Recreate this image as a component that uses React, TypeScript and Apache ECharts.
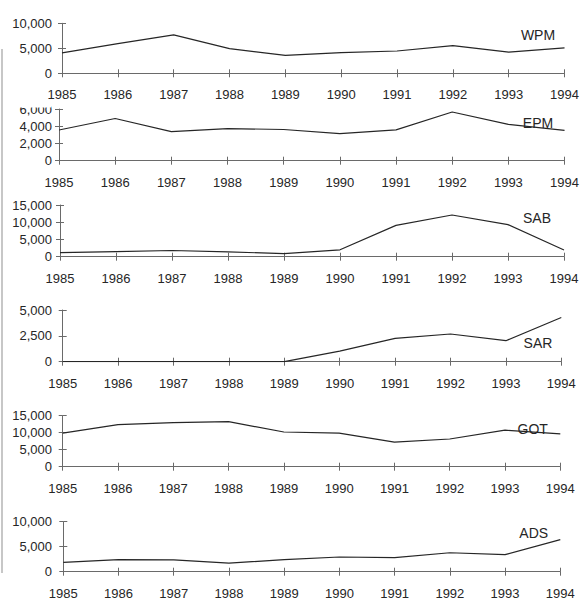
import React, { useEffect, useRef } from "react";
import * as echarts from "echarts";

const years = ["1985", "1986", "1987", "1988", "1989", "1990", "1991", "1992", "1993", "1994"];
const wpm = [4100, 5950, 7700, 4930, 3600, 4120, 4460, 5540, 4250, 5100];
const epm = [3560, 4900, 3380, 3730, 3620, 3150, 3580, 5650, 4220, 3530];
const sab = [1200, 1500, 1800, 1400, 900, 2000, 9100, 12100, 9300, 1950];
const sar = [0, 0, 0, 0, 0, 1030, 2250, 2680, 2030, 4270];
const got = [9850, 12400, 12940, 13240, 10200, 9900, 7250, 8140, 10750, 9650];
const ads = [1850, 2420, 2350, 1700, 2420, 2940, 2810, 3790, 3400, 6420];

const seriesNames = ["WPM", "EPM", "SAB", "SAR", "GOT", "ADS"];
const seriesData = [wpm, epm, sab, sar, got, ads];
const yMaxes = [10000, 6000, 15000, 5000, 15000, 10000];
const yIntervals = [5000, 2000, 5000, 2500, 5000, 5000];

// layout (pixels)
const layout = [
  { left: 62, top: 23.3, right: 566.3, bottom: 73.3, nameX: 538, nameY: 35 },
  { left: 59, top: 109, right: 566.3, bottom: 160.7, nameX: 538, nameY: 122.7 },
  { left: 60, top: 205, right: 564, bottom: 256.7, nameX: 537, nameY: 218.3 },
  { left: 62.7, top: 310, right: 561.3, bottom: 361.7, nameX: 538, nameY: 343.3 },
  { left: 62.7, top: 415.7, right: 560.3, bottom: 466.7, nameX: 532.7, nameY: 429.3 },
  { left: 63.3, top: 521.7, right: 560.3, bottom: 571.7, nameX: 533.7, nameY: 533.3 },
];

const FONT = "'Liberation Sans', Arial, sans-serif";
const TEXT = "#262626";
const AXIS = "#6a6a6a";
const LINE = "#262626";

export default function App() {
  const ref = useRef<HTMLDivElement>(null);

  useEffect(() => {
    if (!ref.current) return;
    const chart = echarts.init(ref.current, null, { renderer: "svg" });

    const grids: any[] = [];
    const xAxes: any[] = [];
    const yAxes: any[] = [];
    const series: any[] = [];
    const graphics: any[] = [];

    layout.forEach((l, i) => {
      grids.push({
        left: l.left,
        top: l.top,
        width: l.right - l.left,
        height: l.bottom - l.top,
        containLabel: false,
      });
      xAxes.push({
        gridIndex: i,
        type: "category",
        position: "bottom",
        data: years,
        boundaryGap: false,
        axisLine: { show: true, lineStyle: { color: AXIS, width: 1 } },
        axisTick: { show: true, length: 4, interval: 0, lineStyle: { color: AXIS } },
        axisLabel: {
          interval: 0,
          margin: 15,
          color: TEXT,
          fontSize: 13,
          fontFamily: FONT,
        },
        splitLine: { show: false },
      });
      xAxes.push({
        gridIndex: i,
        type: "category",
        position: "bottom",
        data: years,
        boundaryGap: false,
        axisLine: { show: false },
        axisTick: { show: true, inside: true, length: 4, interval: 0, lineStyle: { color: AXIS } },
        axisLabel: { show: false },
        splitLine: { show: false },
      });
      yAxes.push({
        gridIndex: i,
        type: "value",
        position: "left",
        min: 0,
        max: yMaxes[i],
        interval: yIntervals[i],
        axisLine: { show: true, lineStyle: { color: AXIS, width: 1 } },
        axisTick: { show: true, length: 4, lineStyle: { color: AXIS } },
        axisLabel: {
          margin: l.left - 52,
          color: TEXT,
          fontSize: 13,
          fontFamily: FONT,
          formatter: (v: number) => v.toLocaleString("en-US"),
        },
        splitLine: { show: false },
      });
      yAxes.push({
        gridIndex: i,
        type: "value",
        position: "left",
        min: 0,
        max: yMaxes[i],
        interval: yIntervals[i],
        axisLine: { show: false },
        axisTick: { show: true, inside: true, length: 4, lineStyle: { color: AXIS } },
        axisLabel: { show: false },
        splitLine: { show: false },
      });
      series.push({
        type: "line",
        name: seriesNames[i],
        xAxisIndex: 2 * i,
        yAxisIndex: 2 * i,
        data: seriesData[i],
        symbol: "none",
        lineStyle: { color: LINE, width: 1.2 },
        z: 3,
      });
      graphics.push({
        type: "text",
        x: l.nameX,
        y: l.nameY,
        z: 10,
        style: {
          text: seriesNames[i],
          fill: TEXT,
          fontSize: 14,
          fontFamily: FONT,
          align: "center",
          verticalAlign: "middle",
        },
      });
    });

    // clip the top of the "6,000" label as in the reference
    graphics.push({
      type: "rect",
      shape: { x: 8, y: 101, width: 43, height: 6.5 },
      style: { fill: "#ffffff" },
      z: 100,
    });
    // page edge line at the left
    graphics.push({
      type: "line",
      shape: { x1: 2, y1: 49, x2: 2, y2: 573 },
      style: { stroke: "#b5b5b5", lineWidth: 1.5 },
      z: 1,
    });

    chart.setOption({
      animation: false,
      backgroundColor: "#ffffff",
      grid: grids,
      xAxis: xAxes,
      yAxis: yAxes,
      series,
      graphic: graphics,
    });

    return () => chart.dispose();
  }, []);

  return (
    <div
      ref={ref}
      style={{ position: "fixed", left: 0, top: 0, width: 582, height: 600, background: "#fff" }}
    />
  );
}
